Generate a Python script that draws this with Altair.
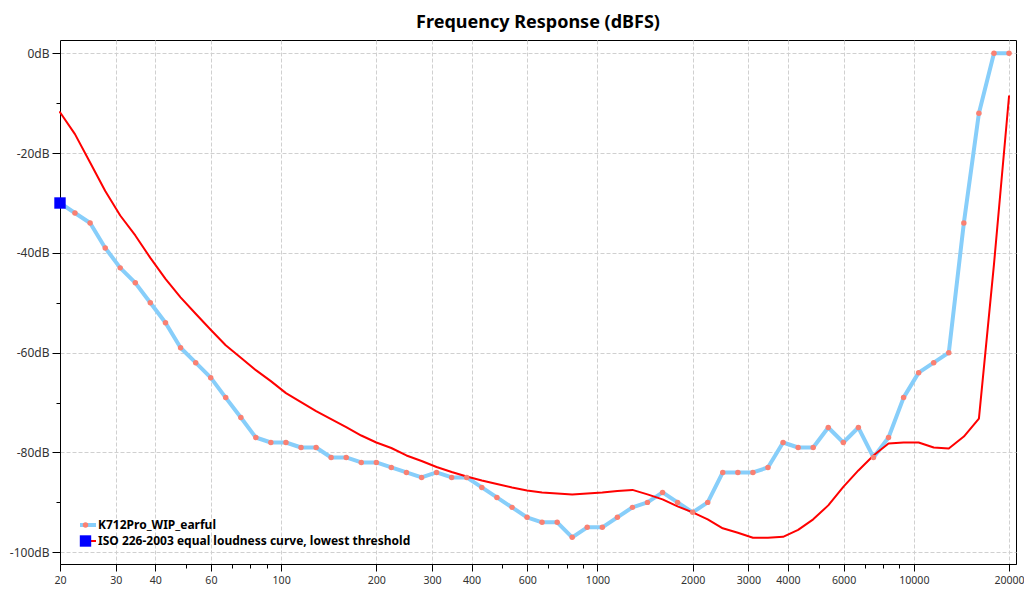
import altair as alt
import pandas as pd

# Frequencies of the sampled points (Hz), read from horizontal positions
freq_hz = [20, 22.3, 24.9, 27.8, 31.0, 34.6, 38.6, 43.1, 48.1, 53.7, 59.9, 66.8, 74.6, 83.2,
           92.8, 103.6, 115.6, 129.0, 143.9, 160.6, 179.2,
           200, 223, 249, 278, 310, 346, 386, 431, 481, 537, 599, 668, 746, 832, 928, 1036,
           1156, 1290, 1439, 1606, 1792,
           2000, 2231, 2489, 2779, 3101, 3459, 3861, 4309, 4808, 5365, 5987, 6681, 7455,
           8319, 9283, 10359, 11559, 12899, 14394, 16062, 17923, 20000]

# K712Pro_WIP_earful response (dB)
response_db = [-30, -32, -34, -39, -43, -46, -50, -54, -59, -62, -65, -69, -73, -77,
               -78, -78, -79, -79, -81, -81, -82, -82, -83, -84, -85, -84, -85, -85,
               -87, -89, -91, -93, -94, -94, -97, -95, -95, -93, -91, -90, -88, -90,
               -92, -90, -84, -84, -84, -83, -78, -79, -79, -75, -78, -75, -81, -77,
               -69, -64, -62, -60, -34, -12, 0, 0]

# ISO 226-2003 equal loudness curve, lowest threshold (dB)
iso_db = [-11.8, -16.2, -21.9, -27.6, -32.5, -36.5, -41.0, -45.2, -48.9, -52.2, -55.4,
          -58.5, -61.0, -63.5, -65.7, -68.1, -69.9, -71.7, -73.3, -74.9, -76.6, -78.0,
          -79.1, -80.6, -81.7, -82.9, -83.9, -84.8, -85.6, -86.3, -87.0, -87.6, -88.0,
          -88.2, -88.4, -88.2, -88.0, -87.7, -87.5, -88.4, -89.4, -90.8, -92.0, -93.4,
          -95.2, -96.1, -97.1, -97.1, -96.9, -95.5, -93.4, -90.6, -86.9, -83.6, -80.6,
          -78.2, -78.0, -78.0, -79.0, -79.2, -76.8, -73.2, -42.3, -8.6]

# square marker
marker_freq = [20]
marker_db = [-30]

series_names = ["K712Pro_WIP_earful", "ISO 226-2003 equal loudness curve, lowest threshold"]
marker_names = ["K712Pro_WIP_earful markers", "ISO 226-2003 markers"]

x_major = [20, 30, 40, 60, 100, 200, 300, 400, 600, 1000, 2000, 3000, 4000, 6000, 10000, 20000]
x_minor = [50, 70, 80, 90, 500, 700, 800, 900, 5000, 7000, 8000, 9000]
y_ticks = [-100, -90, -80, -70, -60, -50, -40, -30, -20, -10, 0]

lines_df = pd.concat([
    pd.DataFrame({"freq": freq_hz, "db": response_db, "series": series_names[0]}),
    pd.DataFrame({"freq": freq_hz, "db": iso_db, "series": series_names[1]}),
])
points_df = pd.concat([
    pd.DataFrame({"freq": freq_hz, "db": response_db, "name": marker_names[0]}),
    pd.DataFrame({"freq": marker_freq, "db": marker_db, "name": marker_names[1]}),
])

FONT = "Noto Sans"
major_list = "[" + ",".join(str(v) for v in x_major) + "]"
is_major = f"indexof({major_list}, datum.value) >= 0"

x_enc = alt.X(
    "freq:Q",
    scale=alt.Scale(type="log", domain=[20, 21040], nice=False),
    axis=alt.Axis(
        title=None,
        values=x_major + x_minor,
        labelExpr=f"{is_major} ? '' + datum.value : ''",
        labelOverlap=False,
        labelFlush=False,
        labelBound=False,
        labelFontSize=10.6,
        tickSize={"condition": {"test": is_major, "value": 7}, "value": 4},
        gridOpacity={"condition": {"test": is_major, "value": 1}, "value": 0},
        labelPadding=4,
    ),
)
y_enc = alt.Y(
    "db:Q",
    scale=alt.Scale(domain=[-102.35, 2.67], nice=False, zero=False),
    axis=alt.Axis(
        title=None,
        values=y_ticks,
        labelExpr="datum.value % 20 == 0 ? datum.value + 'dB' : ''",
        labelOverlap=False,
        labelFlush=False,
        tickSize={"condition": {"test": "datum.value % 20 == 0", "value": 8}, "value": 4},
        gridOpacity={"condition": {"test": "datum.value % 20 == 0", "value": 1}, "value": 0},
        labelPadding=3,
    ),
)

legend_common = dict(
    title=None, orient="none", legendY=477,
    labelFont=FONT, labelFontSize=12, labelFontWeight="bold", labelColor="black",
    labelLimit=500, clipHeight=16, rowPadding=0, padding=0, labelOffset=0,
)

lines = alt.Chart(lines_df).mark_line(strokeJoin="round", strokeCap="round").encode(
    x=x_enc,
    y=y_enc,
    color=alt.Color("series:N",
                    scale=alt.Scale(domain=series_names, range=["#87CEFA", "#FF0000"]),
                    legend=alt.Legend(symbolType="stroke", symbolSize=256, legendX=18,
                                      **legend_common)),
    strokeWidth=alt.StrokeWidth("series:N",
                                scale=alt.Scale(domain=series_names, range=[4, 2]),
                                legend=alt.Legend(symbolType="stroke", symbolSize=256,
                                                  legendX=18, **legend_common)),
)

points = alt.Chart(points_df).mark_point(filled=True, opacity=1).encode(
    x=x_enc,
    y=y_enc,
    fill=alt.Fill("name:N",
                  scale=alt.Scale(domain=marker_names, range=["#FA8072", "#0000FF"]),
                  legend=alt.Legend(labelExpr="''", legendX=19, **legend_common)),
    shape=alt.Shape("name:N",
                    scale=alt.Scale(domain=marker_names, range=["circle", "square"]),
                    legend=alt.Legend(labelExpr="''", legendX=19, **legend_common)),
    size=alt.Size("name:N",
                  scale=alt.Scale(domain=marker_names, range=[30, 130]),
                  legend=alt.Legend(labelExpr="''", legendX=19, **legend_common)),
)

chart = alt.layer(lines, points).properties(
    width=956,
    height=524,
    title=alt.Title("Frequency Response (dBFS)", font=FONT, fontSize=18,
                    fontWeight="bold", color="black", anchor="middle", offset=8),
    autosize=alt.AutoSizeParams(type="none"),
    padding={"left": 60, "top": 40, "right": 8, "bottom": 36},
    background="white",
).configure_view(
    stroke="black", strokeWidth=1
).configure_axis(
    domainColor="black", tickColor="black", gridColor="#d0d0d0", gridDash=[4, 2],
    labelFont=FONT, labelFontSize=12, labelColor="#333333",
)

chart.save("out.html", embed_options={"renderer": "svg", "actions": False})
